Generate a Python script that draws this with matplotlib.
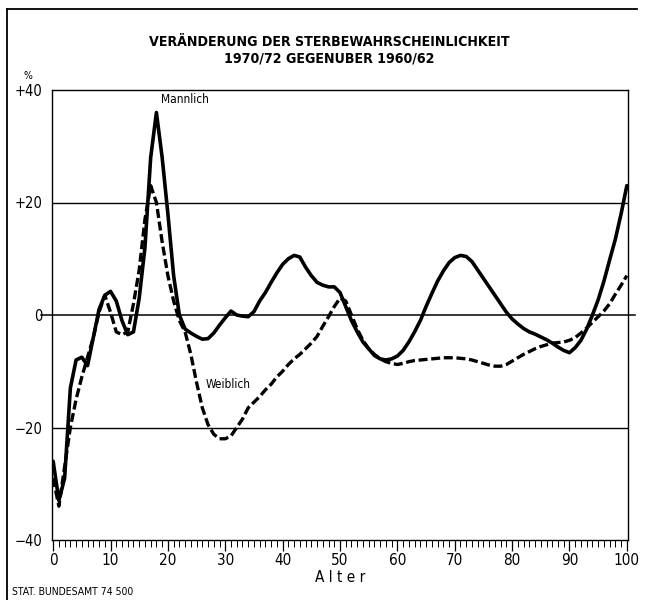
import matplotlib
matplotlib.use("Agg")
import matplotlib.pyplot as plt
from matplotlib.lines import Line2D
from matplotlib.ticker import MultipleLocator, FixedLocator
from matplotlib import font_manager as fm

# ---------------- data ----------------
ages = list(range(0, 101))

maennlich = [-26, -33, -29, -13, -8, -7.5, -9, -4, 1, 3.5,
             4.2, 2.5, -1, -3.5, -3, 3, 12, 28, 36, 28,
             18, 7, 0, -2.5, -3.2, -3.8, -4.3, -4.2, -3.2, -1.8,
             -0.5, 0.7, 0, -0.2, -0.3, 0.6, 2.5, 4, 5.8, 7.5,
             9, 10, 10.6, 10.3, 8.5, 7, 5.8, 5.3, 5, 5,
             4, 1.5, -1, -3, -4.8, -6, -7.2, -7.8, -8, -7.8,
             -7.3, -6.3, -4.8, -3, -1, 1.5, 3.8, 6, 7.8, 9.3,
             10.2, 10.6, 10.4, 9.5, 8, 6.5, 5, 3.5, 2, 0.5,
             -0.7, -1.6, -2.4, -3, -3.4, -3.9, -4.4, -5, -5.7, -6.3,
             -6.7, -5.8, -4.5, -2.5, 0, 2.7, 6, 9.8, 13.5, 18,
             23]

weiblich = [-29, -34, -27, -20, -15, -11, -7.5, -4, 0.5, 3.5,
            0.5, -3, -3.5, -3, 2, 8, 17, 23, 20, 13,
            7, 2.5, -1, -3, -7, -12, -16.5, -19.5, -21.2, -22,
            -22, -21.5, -20, -18.5, -16.5, -15.5, -14.5, -13.3, -12.3, -11,
            -10, -8.8, -7.8, -7, -6, -5, -3.8, -2, -0.3, 1.5,
            3, 2.5, 0, -2.5, -4.5, -6, -7, -7.8, -8.3, -8.6,
            -8.8, -8.6, -8.3, -8.1, -8, -7.9, -7.8, -7.7, -7.6, -7.6,
            -7.6, -7.7, -7.8, -8, -8.3, -8.6, -8.9, -9.1, -9.1, -8.8,
            -8.2, -7.6, -7, -6.5, -6, -5.6, -5.3, -5, -4.9, -4.8,
            -4.5, -4, -3.2, -2.3, -1.3, -0.3, 0.7, 2, 3.7, 5.3,
            7]

y_ticks = [40, 20, 0, -20, -40]
y_ticklabels = ["+40", "+20", "0", "\u221220", "\u221240"]
x_ticks = list(range(0, 101, 10))
x_ticklabels = [str(v) for v in x_ticks]

title1 = "VERÄNDERUNG DER STERBEWAHRSCHEINLICHKEIT"
title2 = "1970/72 GEGENUBER 1960/62"

# condensed font if available
cond = None
condb = None
for f in fm.fontManager.ttflist:
    if f.fname.endswith("DejaVuSansCondensed.ttf"):
        cond = f.fname
    if f.fname.endswith("DejaVuSansCondensed-Bold.ttf"):
        condb = f.fname

def fp(size, bold=False):
    path = condb if (bold and condb) else cond
    if path:
        return fm.FontProperties(fname=path, size=size)
    return fm.FontProperties(family="DejaVu Sans", size=size,
                             weight="bold" if bold else "normal")

# ---------------- figure ----------------
W, H = 647, 600
fig = plt.figure(figsize=(W / 100, H / 100), dpi=100)
fig.patch.set_facecolor("white")

ax = fig.add_axes([52 / W, 1 - 540 / H, (628 - 52) / W, (540 - 90) / H])
ax.set_xlim(-0.2, 100.2)
ax.set_ylim(-40, 40)

for yv in [20, -20]:
    ax.axhline(yv, color="black", lw=1.0, zorder=1)
ax.plot([-2.2, 101.5], [0, 0], color="black", lw=1.1, clip_on=False, zorder=1)

ax.plot(ages, maennlich, color="black", lw=2.6, solid_joinstyle="round",
        solid_capstyle="round", zorder=3)
ax.plot(ages, weiblich, color="black", lw=2.4, dashes=(2.7, 1.1),
        dash_capstyle="butt", zorder=3)

for s in ["left", "right", "top", "bottom"]:
    ax.spines[s].set_linewidth(1.0)

ax.xaxis.set_major_locator(FixedLocator(x_ticks))
ax.set_xticklabels(x_ticklabels)
for lab in ax.get_xticklabels():
    lab.set_fontproperties(fp(11))
ax.xaxis.set_minor_locator(MultipleLocator(1))
ax.tick_params(axis="x", which="major", direction="out", length=8, width=0.9, pad=1.5)
ax.tick_params(axis="x", which="minor", direction="out", length=5, width=0.7)

ax.set_yticks(y_ticks)
ax.set_yticklabels(y_ticklabels)
for lab in ax.get_yticklabels():
    lab.set_fontproperties(fp(10.5))
ax.tick_params(axis="y", which="both", length=0, pad=7)

ax.set_xlabel("A l t e r", fontproperties=fp(11), labelpad=1)

ax.text(18.8, 38.3, "Mannlich", fontproperties=fp(8.6), ha="left", va="center")
ax.text(26.5, -12.3, "Weiblich", fontproperties=fp(8.6), ha="left", va="center")

fig.text(329 / W, 1 - 42 / H, title1, fontproperties=fp(10.2, True),
         ha="center", va="center")
fig.text(329 / W, 1 - 58 / H, title2, fontproperties=fp(10.2, True),
         ha="center", va="center")
fig.text(28 / W, 1 - 76 / H, "%", fontproperties=fp(7.5),
         ha="center", va="center")
fig.text(12 / W, 1 - 592 / H, "STAT. BUNDESAMT 74 500", fontproperties=fp(7.5),
         ha="left", va="center")

fig.add_artist(Line2D([7 / W, 7 / W], [0, 1 - 9 / H], color="black", lw=1.3,
                      transform=fig.transFigure))
fig.add_artist(Line2D([7 / W, 637 / W], [1 - 9 / H, 1 - 9 / H], color="black",
                      lw=1.3, transform=fig.transFigure))

fig.savefig("out.png", dpi=100)
